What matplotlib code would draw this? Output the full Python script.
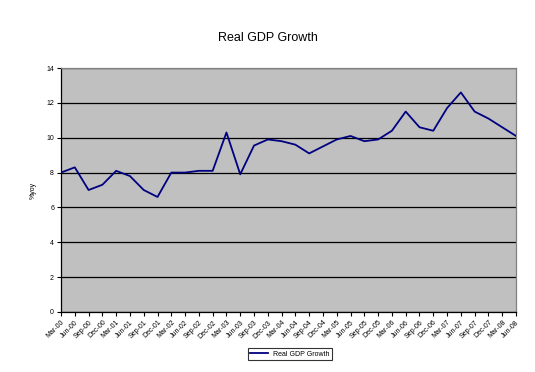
import matplotlib
matplotlib.use("Agg")
import matplotlib.pyplot as plt

quarters = ["Mar-00", "Jun-00", "Sep-00", "Dec-00", "Mar-01", "Jun-01", "Sep-01", "Dec-01",
            "Mar-02", "Jun-02", "Sep-02", "Dec-02", "Mar-03", "Jun-03", "Sep-03", "Dec-03",
            "Mar-04", "Jun-04", "Sep-04", "Dec-04", "Mar-05", "Jun-05", "Sep-05", "Dec-05",
            "Mar-06", "Jun-06", "Sep-06", "Dec-06", "Mar-07", "Jun-07", "Sep-07", "Dec-07",
            "Mar-08", "Jun-08"]
gdp_growth = [8.0, 8.3, 7.0, 7.3, 8.1, 7.8, 7.0, 6.6,
              8.0, 8.0, 8.1, 8.1, 10.3, 7.9, 9.55, 9.9,
              9.8, 9.6, 9.1, 9.5, 9.9, 10.1, 9.8, 9.9,
              10.4, 11.5, 10.6, 10.4, 11.7, 12.6, 11.5, 11.1,
              10.6, 10.1]
y_ticks = [0, 2, 4, 6, 8, 10, 12, 14]

plt.rcParams['font.family'] = ['Liberation Sans', 'DejaVu Sans']

fig = plt.figure(figsize=(5.35, 3.72), dpi=100)
ax = fig.add_axes([61/535, 1-312/372, (516-61)/535, (312-68)/372])
ax.set_facecolor('#C0C0C0')

x = list(range(len(quarters)))
line, = ax.plot(x, gdp_growth, color='#000080', lw=1.3, label='Real GDP Growth', zorder=3)

ax.set_xlim(0, len(quarters)-1)
ax.set_ylim(0, 14)
ax.set_yticks(y_ticks)
ax.set_yticklabels([str(v) for v in y_ticks], fontsize=5)
ax.set_xticks(x)
ax.set_xticklabels(quarters, rotation=45, ha='right', rotation_mode='anchor', fontsize=5)
ax.yaxis.grid(True, color='black', lw=0.9)
ax.set_axisbelow(True)
ax.tick_params(axis='both', direction='out', length=3, width=0.8, color='black', pad=2)

for s in ['top', 'right']:
    ax.spines[s].set_color('#808080')
for s in ['left', 'bottom']:
    ax.spines[s].set_color('black')
for s in ax.spines.values():
    s.set_linewidth(0.9)

ax.set_ylabel('%yoy', fontsize=5, labelpad=7)
fig.text(0.5, 1-38/372, 'Real GDP Growth', ha='center', va='center', fontsize=9)

leg = fig.legend(handles=[line], loc='center', bbox_to_anchor=(290/535, 1-354/372),
                 fontsize=5, frameon=True, fancybox=False, edgecolor='black',
                 handlelength=2.5, borderpad=0.4, borderaxespad=0)
leg.get_frame().set_linewidth(0.8)

fig.savefig('out.png', dpi=100, facecolor='white')
